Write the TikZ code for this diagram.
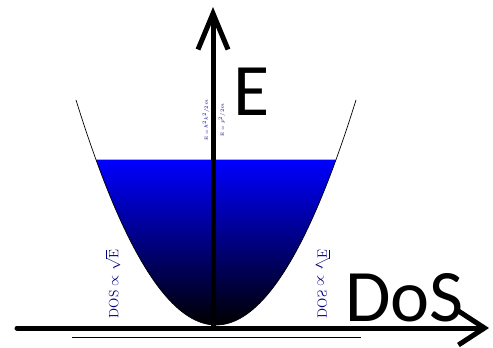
\documentclass[tikz,border=0pt]{standalone}
\usepackage{fontspec}
\newfontfamily\calib{Carlito}
\usetikzlibrary{arrows.meta}
\begin{document}
\begin{tikzpicture}[x=1pt,y=-1pt,
  axisline/.style={line width=5pt,line cap=round},
  vtip/.style={-{Straight Barb[length=36pt,width=30pt,line width=5pt]}},
  htip/.style={-{Straight Barb[length=26pt,width=34pt,line width=5pt]}},
  smalllab/.style={text=blue!50!black,font=\fontsize{13.5}{13.5}\selectfont,inner sep=0pt},
  tinylab/.style={text=blue!50!black,font=\fontsize{4.5}{4.5}\selectfont,inner sep=0pt,rotate=90},
  biglab/.style={font=\calib\fontsize{74}{74}\selectfont,inner sep=0pt}]
\useasboundingbox (0,0) rectangle (493,348);
% filled region
\shade[top color=blue,bottom color=black,domain=-120:120,samples=80]
  plot ({216+\x},{325-(0.10714*\x)*(0.10714*\x)}) -- cycle;
% parabola outline
\draw[line width=0.7pt,domain=-140:140,samples=100] plot ({216+\x},{325-(0.10714*\x)*(0.10714*\x)});
% thin base line
\draw[line width=0.8pt] (72,337) -- (361,337);
% axes
\coordinate (o1) at (213,326);
\coordinate (etop) at (213,7);
\coordinate (o2) at (17,328);
\coordinate (dright) at (489,328);
\draw[axisline,htip] (o2) -- (dright);
\draw[axisline,vtip] (o1) -- (etop);
% labels
\node[biglab,anchor=west] (E) at (233,92) {E};
\node[biglab,anchor=west] (D) at (345,298) {DoS};
\node[smalllab,rotate=90] (l1) at (113,284) {DOS $\propto\sqrt{\mathrm{E}}$};
\node[smalllab,rotate=90,yscale=-1] (l2) at (323,284) {DOS $\propto\sqrt{\mathrm{E}}$};
\node[tinylab] (t1) at (206,120) {E = $\hbar^2k^2/2m$};
\node[tinylab] (t2) at (222,120) {E = $p^2/2m$};
\end{tikzpicture}
\end{document}
